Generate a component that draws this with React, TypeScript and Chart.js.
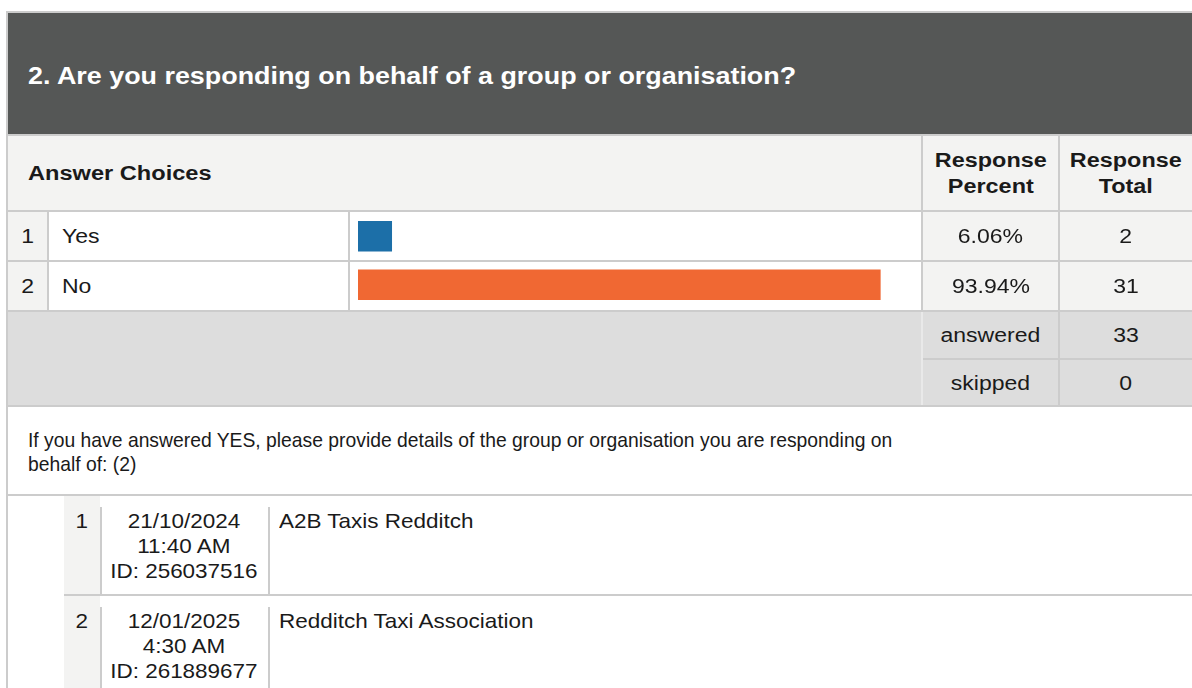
import React, { useEffect, useRef } from "react";
import { Chart, registerables } from "chart.js";

Chart.register(...registerables);

// ---------- data ----------
const questionTitle = "2. Are you responding on behalf of a group or organisation?";
const categories = ["Yes", "No"];
const responsePercent = [6.06, 93.94];
const responseTotal = [2, 31];
const barColors = ["#1c6fa8", "#f06833"];
const answeredCount = 33;
const skippedCount = 0;
const followUpLines = [
  "If you have answered YES, please provide details of the group or organisation you are responding on",
  "behalf of: (2)",
];
const responseDates = ["21/10/2024", "12/01/2025"];
const responseTimes = ["11:40 AM", "4:30 AM"];
const responseIds = ["ID: 256037516", "ID: 261889677"];
const responseTexts = ["A2B Taxis Redditch", "Redditch Taxi Association"];

const FONT = '"Liberation Sans", Arial, Helvetica, sans-serif';
const LINE = "#cccccc";
const LIGHT = "#f3f3f2";
const GREY = "#dddddd";
const TEXT = "#1a1a1a";

type LabelProps = {
  left?: number;
  cx?: number;
  cy: number;
  size: number;
  bold?: boolean;
  sx?: number;
  lh?: number;
  color?: string;
  lines: (string | number)[];
};

function Label({ left, cx, cy, size, bold, sx = 1, lh, color = TEXT, lines }: LabelProps) {
  const L = lh ?? Math.round(size * 1.2);
  const centered = cx !== undefined;
  return (
    <div
      style={{
        position: "absolute",
        top: cy - L / 2,
        left: centered ? (cx as number) - 300 : left,
        width: centered ? 600 : undefined,
        textAlign: centered ? "center" : "left",
        whiteSpace: "nowrap",
        fontFamily: FONT,
        fontSize: size,
        lineHeight: L + "px",
        fontWeight: bold ? 700 : 400,
        color,
        zIndex: 3,
      }}
    >
      <span
        style={{
          display: "inline-block",
          transform: `scaleX(${sx})`,
          transformOrigin: centered ? "center" : "left",
        }}
      >
        {lines.map((t, i) => (
          <div key={i}>{t}</div>
        ))}
      </span>
    </div>
  );
}

function Box({ x, y, w, h, bg, z = 1 }: { x: number; y: number; w: number; h: number; bg: string; z?: number }) {
  return <div style={{ position: "absolute", left: x, top: y, width: w, height: h, background: bg, zIndex: z }} />;
}

function BarChart() {
  const ref = useRef<HTMLCanvasElement | null>(null);
  useEffect(() => {
    if (!ref.current) return;
    const chart = new Chart(ref.current, {
      type: "bar",
      data: {
        labels: categories,
        datasets: [
          {
            data: responsePercent,
            backgroundColor: barColors,
            borderWidth: 0,
            barThickness: 30,
          },
        ],
      },
      options: {
        indexAxis: "y",
        animation: false,
        responsive: false,
        maintainAspectRatio: false,
        layout: { padding: 0 },
        plugins: { legend: { display: false }, tooltip: { enabled: false } },
        scales: {
          x: { min: 0, max: 100, display: false },
          y: { display: false },
        },
      },
    });
    return () => chart.destroy();
  }, []);
  return (
    <div style={{ position: "absolute", left: 358, top: 212, width: 556, height: 97, zIndex: 2 }}>
      <canvas ref={ref} width={556} height={97} style={{ display: "block" }} />
    </div>
  );
}

export default function App() {
  const W = 1192;
  const rowTops = [212, 262];
  const subTops = [496, 596];
  return (
    <div
      style={{
        position: "fixed",
        left: 0,
        top: 0,
        width: W,
        height: 688,
        overflow: "hidden",
        background: "#ffffff",
      }}
    >
      {/* outer border */}
      <Box x={6} y={11} w={W} h={2} bg={LINE} />
      <Box x={6} y={11} w={2} h={700} bg={LINE} />
      {/* dark header */}
      <Box x={8} y={13} w={W} h={121} bg="#555756" />
      <Box x={8} y={134} w={W} h={2} bg={LINE} />
      {/* column header row */}
      <Box x={8} y={136} w={W} h={74} bg={LIGHT} />
      <Box x={921} y={136} w={2} h={74} bg={LINE} />
      <Box x={1058} y={136} w={2} h={74} bg={LINE} />
      <Box x={8} y={210} w={W} h={2} bg={LINE} />

      {/* answer rows */}
      {rowTops.map((t, i) => (
        <React.Fragment key={i}>
          <Box x={8} y={t} w={39} h={48} bg={LIGHT} />
          <Box x={47} y={t} w={2} h={48} bg={LINE} />
          <Box x={348} y={t} w={2} h={48} bg={LINE} />
          <Box x={921} y={t} w={2} h={48} bg={LINE} />
          <Box x={923} y={t} w={135} h={48} bg={LIGHT} />
          <Box x={1058} y={t} w={2} h={48} bg={LINE} />
          <Box x={1060} y={t} w={W} h={48} bg={LIGHT} />
          <Box x={8} y={t + 48} w={W} h={2} bg={LINE} z={4} />
        </React.Fragment>
      ))}

      <BarChart />

      {/* answered / skipped */}
      <Box x={8} y={312} w={W} h={93} bg={GREY} />
      <Box x={921} y={312} w={2} h={93} bg="#e9e9e9" />
      <Box x={1058} y={312} w={2} h={93} bg={LINE} />
      <Box x={923} y={358} w={W} h={2} bg={LINE} />
      <Box x={8} y={405} w={W} h={2} bg={LINE} />

      {/* follow-up question */}
      <Box x={8} y={494} w={W} h={2} bg={LINE} />

      {/* sub responses */}
      {subTops.map((t, i) => (
        <React.Fragment key={"s" + i}>
          <Box x={64} y={t} w={36} h={98} bg={LIGHT} />
          <Box x={100} y={t + 11} w={2} h={87} bg={LINE} />
          <Box x={268} y={t + 11} w={2} h={87} bg={LINE} />
          {i === 0 && <Box x={64} y={t + 98} w={W} h={2} bg={LINE} />}
        </React.Fragment>
      ))}

      {/* texts */}
      <Label left={28} cy={75} size={24} bold sx={1.12} color="#ffffff" lines={[questionTitle]} />
      <Label left={28} cy={173} size={20} bold sx={1.18} lines={["Answer Choices"]} />
      <Label cx={990.5} cy={160} size={20} bold sx={1.17} lh={26} lines={["Response", "Percent"]} />
      <Label cx={1126} cy={160} size={20} bold sx={1.17} lh={26} lines={["Response", "Total"]} />

      {categories.map((c, i) => (
        <React.Fragment key={"c" + i}>
          <Label cx={28} cy={rowTops[i] + 24} size={20} sx={1.15} lines={[i + 1]} />
          <Label left={62} cy={rowTops[i] + 24} size={20} sx={1.15} lines={[c]} />
          <Label cx={990.5} cy={rowTops[i] + 24} size={20} sx={1.15} lines={[responsePercent[i].toFixed(2) + "%"]} />
          <Label cx={1126} cy={rowTops[i] + 24} size={20} sx={1.15} lines={[responseTotal[i]]} />
        </React.Fragment>
      ))}

      <Label cx={990.5} cy={335} size={20} sx={1.15} lines={["answered"]} />
      <Label cx={1126} cy={335} size={20} sx={1.15} lines={[answeredCount]} />
      <Label cx={990.5} cy={382.5} size={20} sx={1.15} lines={["skipped"]} />
      <Label cx={1126} cy={382.5} size={20} sx={1.15} lines={[skippedCount]} />

      <Label left={28} cy={439.5} size={21} sx={0.92} lh={24} lines={followUpLines} />

      {responseDates.map((d, i) => (
        <React.Fragment key={"r" + i}>
          <Label cx={82} cy={subTops[i] + 24} size={21} sx={1.07} lh={25} lines={[i + 1]} />
          <Label cx={184} cy={subTops[i] + 24} size={21} sx={1.07} lh={25} lines={[d, responseTimes[i], responseIds[i]]} />
          <Label left={279} cy={subTops[i] + 24} size={21} sx={1.07} lh={25} lines={[responseTexts[i]]} />
        </React.Fragment>
      ))}
    </div>
  );
}
